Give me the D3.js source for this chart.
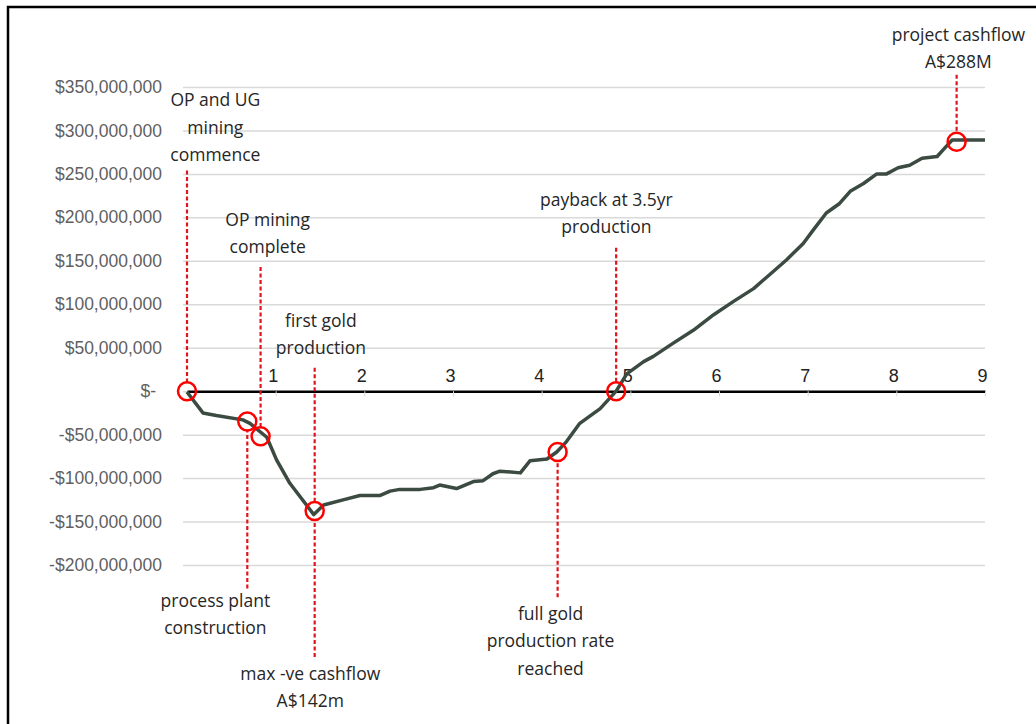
<!DOCTYPE html>
<html>
  <head>
    <meta charset="utf-8" />
    <title>Cumulative project cashflow</title>
    <script src="https://d3js.org/d3.v7.min.js"></script>
    <style>
      body {
        margin: 0;
        background: #fff;
      }
      svg {
        display: block;
      }
    </style>
  </head>
  <body>
    <div id="chart"></div>
    <script>
      // cumulative cashflow, year vs A$ millions
      var years = [
        0, 0.18, 0.33, 0.63, 0.71, 0.9, 1.01, 1.16, 1.43, 1.54, 1.76, 1.95,
        2.18, 2.29, 2.4, 2.63, 2.78, 2.85, 3.04, 3.23, 3.34, 3.45, 3.53, 3.76,
        3.87, 4.06, 4.17, 4.28, 4.43, 4.66, 4.84, 4.96, 5.15, 5.26, 5.48, 5.71,
        5.94, 6.16, 6.39, 6.57, 6.76, 6.95, 7.06, 7.21, 7.36, 7.48, 7.63, 7.78,
        7.89, 8.02, 8.15, 8.29, 8.46, 8.53, 8.63, 9
      ];
      var cashflow = [
        -1, -25, -28, -33, -37, -53, -79, -106, -142, -131, -125, -120, -120,
        -115, -113, -113, -111, -108, -112, -104, -103, -95, -92, -94, -80,
        -78, -70, -58, -37, -20, 0, 20, 34, 40, 55, 70, 88, 103, 118, 134, 151,
        170, 185, 205, 216, 230, 239, 250, 250, 257, 260, 268, 270, 278, 289,
        289
      ];

      var yTicks = [350, 300, 250, 200, 150, 100, 50, 0, -50, -100, -150, -200];
      var xTicks = [1, 2, 3, 4, 5, 6, 7, 8, 9];

      // milestones on the curve
      var eventYears = [0, 0.68, 0.83, 1.44, 4.18, 4.84, 8.68];
      var eventValues = [0, -35, -52, -138, -70, 0, 287];

      // callouts: label text, label centre (year, $M), end of the dashed leader
      var callouts = [
        { ev: 0, lines: ["OP and UG", "mining", "commence"], lx: 0.32, ly: 335, dash: 254 },
        { ev: 2, lines: ["OP mining", "complete"], lx: 0.91, ly: 197, dash: 143 },
        { ev: 3, lines: ["first gold", "production"], lx: 1.51, ly: 81, dash: 27 },
        { ev: 1, lines: ["process plant", "construction"], lx: 0.32, ly: -241, dash: -227 },
        { ev: 3, lines: ["max -ve cashflow", "A$142m"], lx: 1.39, ly: -325, dash: -306 },
        { ev: 4, lines: ["full gold", "production rate", "reached"], lx: 4.1, ly: -256, dash: -237 },
        { ev: 5, lines: ["payback at 3.5yr", "production"], lx: 4.73, ly: 220, dash: 165 },
        { ev: 6, lines: ["project cashflow", "A$288M"], lx: 8.7, ly: 410, dash: 364 }
      ];

      var width = 1036;
      var height = 724;

      var svg = d3
        .select("#chart")
        .append("svg")
        .attr("width", width)
        .attr("height", height);

      var x = d3.scaleLinear().domain([0, 9]).range([187, 985]);
      var y = d3.scaleLinear().domain([-200, 350]).range([565, 87]);

      // frame
      svg
        .append("path")
        .attr("d", "M8," + height + "V7H" + width)
        .attr("fill", "none")
        .attr("stroke", "#000")
        .attr("stroke-width", 2.5);

      // gridlines + y labels
      var yAxis = d3
        .axisLeft(y)
        .tickValues(yTicks)
        .tickSize(x(9) - x(0) + 4)
        .tickFormat(function (d) {
          if (d === 0) return "$-";
          return (d < 0 ? "-$" : "$") + d3.format(",")(Math.abs(d) * 1e6);
        });

      var gy = svg
        .append("g")
        .attr("transform", "translate(" + x(9) + ",0)")
        .call(yAxis);
      gy.select(".domain").remove();
      gy.selectAll(".tick line")
        .attr("stroke", "#d9d9d9")
        .attr("stroke-width", 1.5);
      gy.selectAll(".tick text")
        .attr("x", -(x(9) - x(0)) - 25)
        .attr("dx", function (d) {
          return d === 0 ? -6 : 0;
        })
        .attr("fill", "#5f5f5f")
        .style("font-family", "'Liberation Sans', Arial, sans-serif")
        .style("font-size", "17.5px");

      // zero axis with year labels above it
      var xAxis = d3.axisBottom(x).tickValues(xTicks).tickSize(5).tickSizeOuter(0);
      var gx = svg
        .append("g")
        .attr("transform", "translate(0," + y(0) + ")")
        .call(xAxis);
      gx.select(".domain")
        .attr("stroke", "#000")
        .attr("stroke-width", 2.5);
      gx.selectAll(".tick line").attr("stroke", "#d9d9d9");
      gx.selectAll(".tick text")
        .attr("y", -9)
        .attr("dy", 0)
        .attr("dx", -3)
        .attr("fill", "#222")
        .style("font-family", "'Liberation Sans', Arial, sans-serif")
        .style("font-size", "18px");

      // cashflow line
      var line = d3
        .line()
        .x(function (d, i) {
          return x(years[i]);
        })
        .y(function (d) {
          return y(d);
        });

      svg
        .append("path")
        .datum(cashflow)
        .attr("d", line)
        .attr("fill", "none")
        .attr("stroke", "#3b4b41")
        .attr("stroke-width", 3.5)
        .attr("stroke-linejoin", "round");

      var r = 9;

      // dashed leaders
      svg
        .append("g")
        .selectAll("line")
        .data(callouts)
        .enter()
        .append("line")
        .attr("x1", function (d) {
          return x(eventYears[d.ev]);
        })
        .attr("x2", function (d) {
          return x(eventYears[d.ev]);
        })
        .attr("y1", function (d) {
          return y(d.dash);
        })
        .attr("y2", function (d) {
          var cy = y(eventValues[d.ev]);
          return d.dash > eventValues[d.ev] ? cy - r : cy + r;
        })
        .attr("stroke", "#e0141e")
        .attr("stroke-width", 2.2)
        .attr("stroke-dasharray", "4,2.5");

      // milestone circles
      svg
        .append("g")
        .selectAll("circle")
        .data(eventYears)
        .enter()
        .append("circle")
        .attr("cx", function (d) {
          return x(d);
        })
        .attr("cy", function (d, i) {
          return y(eventValues[i]);
        })
        .attr("r", r)
        .attr("fill", "none")
        .attr("stroke", "#ff0000")
        .attr("stroke-width", 2.5);

      // callout labels
      var labels = svg
        .append("g")
        .selectAll("text")
        .data(callouts)
        .enter()
        .append("text")
        .attr("text-anchor", "middle")
        .attr("fill", "#262626")
        .style("font-family", "'Open Sans', 'Noto Sans', sans-serif")
        .style("font-size", "17.5px");

      labels
        .selectAll("tspan")
        .data(function (d) {
          return d.lines.map(function (t, i) {
            return { t: t, i: i, c: d };
          });
        })
        .enter()
        .append("tspan")
        .attr("x", function (d) {
          return x(d.c.lx);
        })
        .attr("y", function (d) {
          return y(d.c.ly) + d.i * 27.5 + 6;
        })
        .text(function (d) {
          return d.t;
        });
    </script>
  </body>
</html>
